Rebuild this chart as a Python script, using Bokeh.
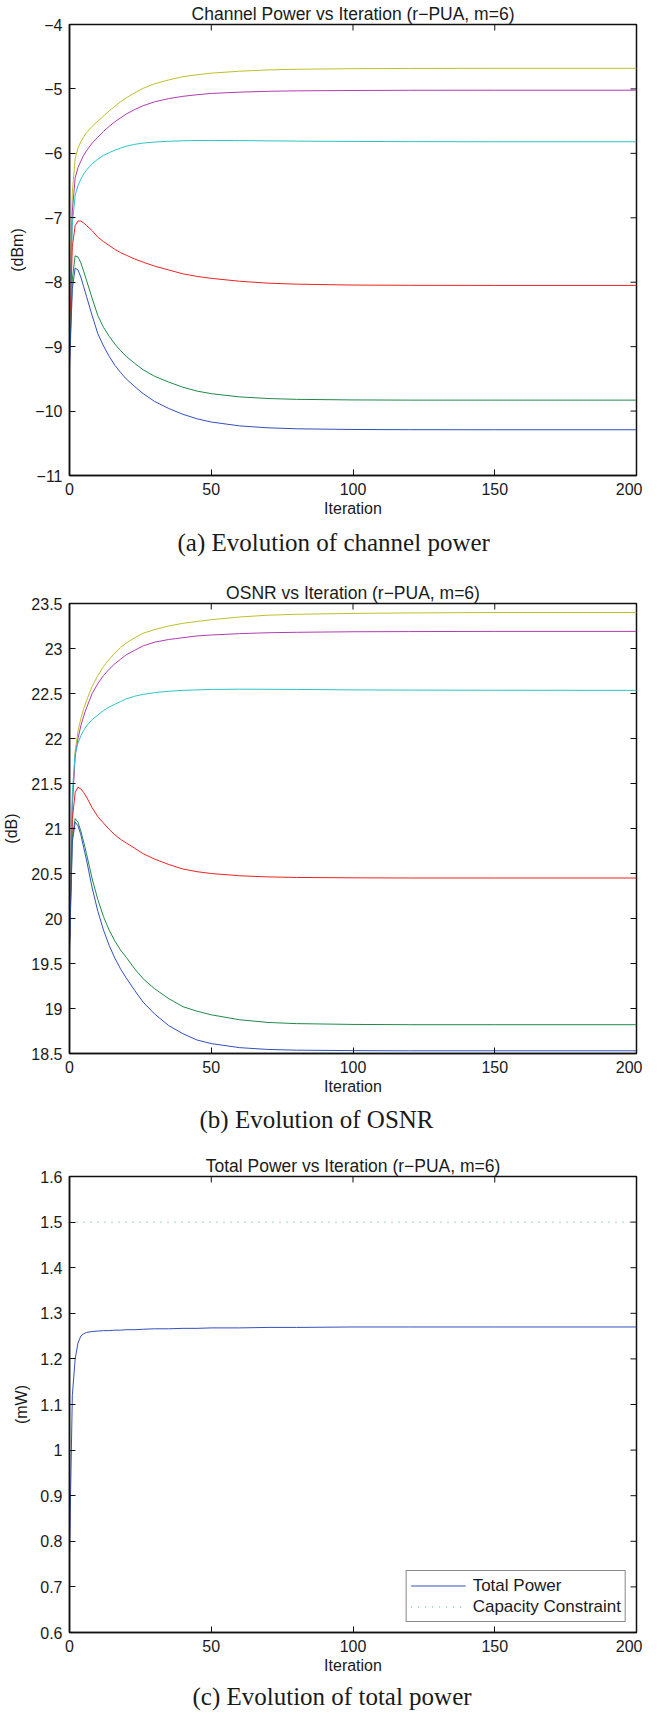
from bokeh.plotting import figure
from bokeh.models import Range1d, FixedTicker, CustomJSTickFormatter, Title, Legend, LegendItem
from bokeh.layouts import column
from bokeh.embed import file_html
from bokeh.resources import INLINE

# ---------------- data ----------------
ITER = [0, 1, 2, 3, 4, 5, 6, 8, 10, 12, 14, 16, 18, 20, 23, 26, 30, 35, 40, 45, 50,
        60, 70, 80, 100, 120, 150, 200]

# Channel power (dBm)
P_YELLOW = [-8.5, -6.6, -6.08, -5.92, -5.82, -5.74, -5.68, -5.58, -5.5, -5.42, -5.34, -5.27, -5.2, -5.14,
            -5.06, -4.99, -4.92, -4.86, -4.81, -4.78, -4.755, -4.725, -4.705, -4.695, -4.686, -4.682, -4.68, -4.68]
P_MAGENTA = [-8.6, -6.9, -6.38, -6.22, -6.12, -6.03, -5.96, -5.84, -5.75, -5.66, -5.58, -5.51, -5.45, -5.39,
             -5.32, -5.26, -5.2, -5.15, -5.115, -5.09, -5.07, -5.05, -5.037, -5.03, -5.024, -5.021, -5.02, -5.02]
P_CYAN = [-8.8, -7.1, -6.65, -6.5, -6.4, -6.32, -6.26, -6.16, -6.09, -6.03, -5.99, -5.95, -5.92, -5.89,
          -5.86, -5.84, -5.825, -5.812, -5.805, -5.80, -5.80, -5.802, -5.806, -5.81, -5.815, -5.818, -5.82, -5.82]
P_RED = [-8.86, -7.45, -7.12, -7.05, -7.05, -7.08, -7.12, -7.2, -7.3, -7.37, -7.43, -7.49, -7.54, -7.58,
         -7.64, -7.69, -7.75, -7.81, -7.87, -7.91, -7.94, -7.985, -8.015, -8.03, -8.044, -8.048, -8.05, -8.05]
P_GREEN = [-9.2, -7.95, -7.59, -7.61, -7.7, -7.83, -7.97, -8.25, -8.52, -8.7, -8.84, -8.96, -9.06, -9.15,
           -9.26, -9.36, -9.46, -9.55, -9.63, -9.69, -9.73, -9.78, -9.805, -9.818, -9.827, -9.83, -9.83, -9.83]
P_BLUE = [-9.35, -8.1, -7.78, -7.81, -7.92, -8.07, -8.22, -8.52, -8.8, -8.99, -9.15, -9.29, -9.4, -9.5,
          -9.62, -9.73, -9.85, -9.96, -10.05, -10.12, -10.17, -10.23, -10.26, -10.275, -10.286, -10.289, -10.29, -10.29]

# OSNR (dB)
O_YELLOW = [19.7, 21.3, 21.86, 22.08, 22.22, 22.33, 22.42, 22.58, 22.7, 22.8, 22.88, 22.95, 23.01, 23.06,
            23.12, 23.17, 23.21, 23.25, 23.28, 23.3, 23.32, 23.35, 23.37, 23.38, 23.39, 23.395, 23.4, 23.4]
O_MAGENTA = [19.7, 21.25, 21.8, 22.0, 22.14, 22.25, 22.34, 22.5, 22.61, 22.7, 22.77, 22.83, 22.88, 22.93,
             22.98, 23.03, 23.07, 23.1, 23.12, 23.14, 23.15, 23.165, 23.175, 23.18, 23.186, 23.188, 23.19, 23.19]
O_CYAN = [19.7, 21.4, 21.83, 21.95, 22.03, 22.09, 22.14, 22.21, 22.26, 22.31, 22.35, 22.38, 22.41, 22.44,
          22.47, 22.49, 22.51, 22.525, 22.535, 22.54, 22.545, 22.548, 22.547, 22.545, 22.54, 22.538, 22.536, 22.535]
O_RED = [19.7, 21.1, 21.4, 21.46, 21.44, 21.4, 21.35, 21.23, 21.13, 21.06, 20.99, 20.93, 20.88, 20.84,
         20.78, 20.72, 20.66, 20.6, 20.55, 20.52, 20.5, 20.475, 20.462, 20.456, 20.452, 20.45, 20.45, 20.45]
O_GREEN = [19.7, 20.9, 21.11, 21.07, 20.97, 20.85, 20.72, 20.44, 20.21, 20.02, 19.87, 19.75, 19.65, 19.57,
           19.44, 19.33, 19.22, 19.11, 19.02, 18.97, 18.93, 18.875, 18.845, 18.832, 18.823, 18.82, 18.82, 18.82]
O_BLUE = [19.65, 20.85, 21.07, 21.03, 20.93, 20.79, 20.65, 20.34, 20.08, 19.87, 19.7, 19.56, 19.44, 19.34,
          19.2, 19.07, 18.94, 18.81, 18.72, 18.65, 18.61, 18.565, 18.545, 18.537, 18.532, 18.53, 18.53, 18.53]

# Total power (mW)
TOTAL_POWER = [0.77, 1.12, 1.2, 1.235, 1.25, 1.255, 1.258, 1.26, 1.261, 1.262, 1.262, 1.263, 1.263, 1.264,
               1.264, 1.265, 1.266, 1.266, 1.267, 1.267, 1.268, 1.268, 1.269, 1.269, 1.27, 1.27, 1.27, 1.27]
CAP_X = [0, 200]
CAP_Y = [1.5, 1.5]

X_TICKS = [0, 50, 100, 150, 200]
Y1_TICKS = [-11, -10, -9, -8, -7, -6, -5, -4]
Y2_TICKS = [18.5, 19, 19.5, 20, 20.5, 21, 21.5, 22, 22.5, 23, 23.5]
Y3_TICKS = [0.6, 0.7, 0.8, 0.9, 1.0, 1.1, 1.2, 1.3, 1.4, 1.5, 1.6]

COLORS = ["#bfbf2a", "#b03cb0", "#2cc4c4", "#ee2222", "#1f8a4a", "#3250bc"]

SANS = "Liberation Sans"
SERIF = "Liberation Serif"
TXT = "#1a1a1a"
INK = "#111111"

FMT = CustomJSTickFormatter(code="return (Math.round(tick*10)/10).toString().replace('-', '\u2212');")


def make_fig(height, top, bottom, left, right, title, ylab, yticks, yr, caption,
             ylab_standoff, cap_standoff, cap_offset):
    p = figure(width=642, height=height, x_range=Range1d(0, 200), y_range=Range1d(*yr),
               output_backend="svg", toolbar_location=None,
               min_border_left=left, min_border_right=right,
               min_border_top=top, min_border_bottom=bottom)
    p.title.text = title
    p.title.text_font = SANS
    p.title.text_font_size = "17.5px"
    p.title.text_font_style = "normal"
    p.title.text_color = TXT
    p.title.align = "center"
    p.title.standoff = 2
    p.xgrid.visible = False
    p.ygrid.visible = False
    p.outline_line_color = INK
    p.outline_line_width = 1.5
    p.background_fill_color = "white"
    p.border_fill_color = "white"

    xa = p.xaxis[0]
    xa.ticker = FixedTicker(ticks=X_TICKS)
    xa.axis_label = "Iteration"
    xa.axis_label_standoff = 2
    xa.major_label_standoff = 7
    ya = p.yaxis[0]
    ya.ticker = FixedTicker(ticks=yticks)
    ya.formatter = FMT
    ya.axis_label = ylab
    ya.axis_label_standoff = ylab_standoff
    ya.major_label_standoff = 7
    for ax in (xa, ya):
        ax.major_tick_in = 6
        ax.major_tick_out = 0
        ax.minor_tick_line_color = None
        ax.axis_line_color = INK
        ax.axis_line_width = 1.5
        ax.major_tick_line_color = INK
        ax.major_label_text_font = SANS
        ax.major_label_text_font_size = "16px"
        ax.major_label_text_color = TXT
        ax.axis_label_text_font = SANS
        ax.axis_label_text_font_size = "16px"
        ax.axis_label_text_font_style = "normal"
        ax.axis_label_text_color = TXT

    # inward tick marks on the top and right edges of the box (screen-length rays)
    p.ray(x=X_TICKS, y=[yr[1]] * len(X_TICKS), length=6, length_units="screen",
          angle=-90, angle_units="deg", line_color=INK, line_width=1)
    p.ray(x=[X_TICKS[-1]] * len(yticks), y=yticks, length=6, length_units="screen",
          angle=180, angle_units="deg", line_color=INK, line_width=1)

    p.add_layout(Title(text=caption, align="left", text_font=SERIF, text_font_size="25px",
                       text_font_style="normal", text_color=TXT, standoff=cap_standoff,
                       offset=cap_offset), "below")
    return p


# ---------- figure (a) ----------
p1 = make_fig(567, 21, 92, 62, 6, "Channel Power vs Iteration (r\u2212PUA, m=6)", "(dBm)",
              Y1_TICKS, (-11, -4), "(a) Evolution of channel power", 6, 14, 108)
for ys, c in zip([P_YELLOW, P_MAGENTA, P_CYAN, P_RED, P_GREEN, P_BLUE], COLORS):
    p1.line(ITER, ys, line_color=c, line_width=1)

# ---------- figure (b) ----------
p2 = make_fig(573, 36, 87, 66, 6, "OSNR vs Iteration (r\u2212PUA, m=6)", "(dB)",
              Y2_TICKS, (18.5, 23.5), "(b) Evolution of OSNR", 8, 12, 130)
for ys, c in zip([O_YELLOW, O_MAGENTA, O_CYAN, O_RED, O_GREEN, O_BLUE], COLORS):
    p2.line(ITER, ys, line_color=c, line_width=1)

# ---------- figure (c) ----------
p3 = make_fig(576, 36, 84, 57, 6, "Total Power vs Iteration (r\u2212PUA, m=6)", "(mW)",
              Y3_TICKS, (0.6, 1.6), "(c) Evolution of total power", 7, 8, 123)
r_tot = p3.line(ITER, TOTAL_POWER, line_color="#3250bc", line_width=1)
r_cap = p3.line(CAP_X, CAP_Y, line_color="#48a88a", line_width=1, line_dash="1 6")
legend = Legend(items=[LegendItem(label="Total Power", renderers=[r_tot]),
                       LegendItem(label="Capacity Constraint", renderers=[r_cap])],
                location="bottom_right", border_line_color=INK, border_line_width=1.5,
                label_text_font=SANS, label_text_font_size="17px", label_text_color=TXT,
                glyph_width=55, glyph_height=21, label_height=21, label_standoff=7,
                padding=4, spacing=0, margin=10,
                background_fill_color="white", background_fill_alpha=1.0)
p3.add_layout(legend)

layout = column(p1, p2, p3, spacing=0)
open("out.html", "w").write(file_html(layout, INLINE))
